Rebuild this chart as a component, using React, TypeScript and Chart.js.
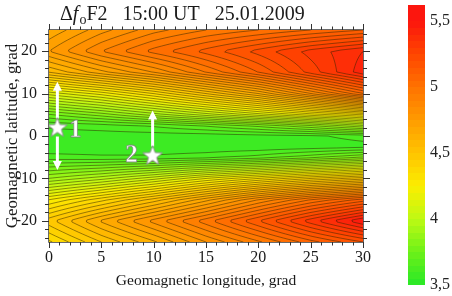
import React, { useEffect, useRef } from "react";
import { Chart, registerables } from "chart.js";
Chart.register(...registerables);

// ---- data ----
const LONGITUDES = [0, 5, 10, 15, 20, 25, 30];
const LATITUDES = [25, 20, 15, 10, 5, 2.5, 0, -2.5, -5, -10, -15, -20, -25];
const ROW_LAT_P25 = [4.66, 4.78, 4.88, 4.95, 5.0, 5.05, 5.1];
const ROW_LAT_P20 = [4.75, 4.9, 5.02, 5.12, 5.22, 5.32, 5.4];
const ROW_LAT_P15 = [4.55, 4.68, 4.8, 4.95, 5.1, 5.27, 5.43];
const ROW_LAT_P10 = [4.12, 4.22, 4.35, 4.5, 4.65, 4.85, 5.05];
const ROW_LAT_P5 = [3.74, 3.82, 3.92, 4.02, 4.12, 4.22, 4.3];
const ROW_LAT_P2_5 = [3.61, 3.63, 3.66, 3.71, 3.77, 3.85, 3.95];
const ROW_LAT_0 = [3.57, 3.57, 3.57, 3.57, 3.58, 3.59, 3.62];
const ROW_LAT_M2_5 = [3.56, 3.56, 3.56, 3.56, 3.56, 3.57, 3.58];
const ROW_LAT_M5 = [3.62, 3.61, 3.61, 3.63, 3.67, 3.73, 3.8];
const ROW_LAT_M10 = [3.9, 3.98, 4.08, 4.2, 4.3, 4.4, 4.48];
const ROW_LAT_M15 = [4.25, 4.38, 4.52, 4.68, 4.85, 5.0, 5.12];
const ROW_LAT_M20 = [4.48, 4.66, 4.82, 4.98, 5.15, 5.33, 5.5];
const ROW_LAT_M25 = [4.34, 4.5, 4.64, 4.8, 4.94, 5.08, 5.2];
const VALUE_ROWS = [
  ROW_LAT_P25, ROW_LAT_P20, ROW_LAT_P15, ROW_LAT_P10, ROW_LAT_P5, ROW_LAT_P2_5,
  ROW_LAT_0, ROW_LAT_M2_5, ROW_LAT_M5, ROW_LAT_M10, ROW_LAT_M15, ROW_LAT_M20, ROW_LAT_M25,
];

const X_TICKS = [0, 5, 10, 15, 20, 25, 30];
const Y_TICKS = [-20, -10, 0, 10, 20];
const COLORBAR_TICKS = [3.5, 4, 4.5, 5, 5.5];
const COLORBAR_LABELS = ["3,5", "4", "4,5", "5", "5,5"];
const CB_MIN = 3.5;
const CB_MAX = 5.62;
const LEVEL_STEP = 0.05;

const MARKER_LON = [0.8, 9.9];
const MARKER_LAT = [2.0, -4.6];
const MARKER_LABELS = ["1", "2"];
const ARROW_UP_TO = [12.8, 6.0];
const ARROW_DOWN_TO: (number | null)[] = [-8.0, null];

// ---- colour map (colour-bar stops) ----
const CMAP_VALUES = [3.5, 3.75, 4.0, 4.25, 4.5, 4.75, 5.0, 5.25, 5.5];
const CMAP_COLORS = [
  [40, 232, 40],
  [110, 242, 25],
  [190, 250, 20],
  [252, 238, 0],
  [255, 196, 0],
  [255, 156, 0],
  [255, 115, 0],
  [255, 70, 0],
  [252, 22, 14],
];

const SERIF = "'Liberation Serif', 'DejaVu Serif', serif";

function colorFor(v: number): number[] {
  if (v <= CMAP_VALUES[0]) return CMAP_COLORS[0];
  for (let i = 0; i < CMAP_VALUES.length - 1; i++) {
    if (v <= CMAP_VALUES[i + 1]) {
      const t = (v - CMAP_VALUES[i]) / (CMAP_VALUES[i + 1] - CMAP_VALUES[i]);
      const a = CMAP_COLORS[i], b = CMAP_COLORS[i + 1];
      return [a[0] + (b[0] - a[0]) * t, a[1] + (b[1] - a[1]) * t, a[2] + (b[2] - a[2]) * t];
    }
  }
  return CMAP_COLORS[CMAP_COLORS.length - 1];
}

function bandColor(v: number): number[] {
  const k = Math.floor((v - CB_MIN) / LEVEL_STEP);
  return colorFor(CB_MIN + (k + 0.5) * LEVEL_STEP);
}

function fieldAt(lon: number, lat: number): number {
  let j = 0;
  while (j < LONGITUDES.length - 2 && lon > LONGITUDES[j + 1]) j++;
  let tx = (lon - LONGITUDES[j]) / (LONGITUDES[j + 1] - LONGITUDES[j]);
  tx = Math.max(0, Math.min(1, tx));
  let i = 0;
  while (i < LATITUDES.length - 2 && lat < LATITUDES[i + 1]) i++;
  let ty = (LATITUDES[i] - lat) / (LATITUDES[i] - LATITUDES[i + 1]);
  ty = Math.max(0, Math.min(1, ty));
  const a = VALUE_ROWS[i][j], b = VALUE_ROWS[i][j + 1];
  const c = VALUE_ROWS[i + 1][j], d = VALUE_ROWS[i + 1][j + 1];
  return a * (1 - tx) * (1 - ty) + b * tx * (1 - ty) + c * (1 - tx) * ty + d * tx * ty;
}

function makeStar(): HTMLCanvasElement {
  const c = document.createElement("canvas");
  c.width = 24;
  c.height = 24;
  const g = c.getContext("2d")!;
  g.beginPath();
  for (let k = 0; k < 10; k++) {
    const r = k % 2 === 0 ? 10.5 : 4.3;
    const ang = -Math.PI / 2 + (k * Math.PI) / 5;
    const px = 12 + r * Math.cos(ang), py = 12.5 + r * Math.sin(ang);
    if (k === 0) g.moveTo(px, py); else g.lineTo(px, py);
  }
  g.closePath();
  g.fillStyle = "#ffffff";
  g.fill();
  g.strokeStyle = "#8f8f8f";
  g.lineWidth = 1;
  g.stroke();
  return c;
}

const fieldPlugin = {
  id: "fieldPlugin",
  beforeDatasetsDraw(chart: any) {
    const { ctx, chartArea, scales } = chart;
    const xs = scales.x, ys = scales.y;
    const L = Math.round(chartArea.left), T = Math.round(chartArea.top);
    const W = Math.round(chartArea.right) - L, H = Math.round(chartArea.bottom) - T;
    const off = document.createElement("canvas");
    off.width = W;
    off.height = H;
    const og = off.getContext("2d")!;
    const img = og.createImageData(W, H);
    for (let py = 0; py < H; py++) {
      const lat = ys.getValueForPixel(T + py + 0.5);
      for (let px = 0; px < W; px++) {
        const lon = xs.getValueForPixel(L + px + 0.5);
        const col = bandColor(fieldAt(lon, lat));
        const o = (py * W + px) * 4;
        img.data[o] = col[0];
        img.data[o + 1] = col[1];
        img.data[o + 2] = col[2];
        img.data[o + 3] = 255;
      }
    }
    og.putImageData(img, 0, 0);
    ctx.save();
    ctx.drawImage(off, L, T);

    ctx.beginPath();
    ctx.rect(L, T, W, H);
    ctx.clip();
    const step = 2;
    const nx = Math.ceil(W / step) + 1, ny = Math.ceil(H / step) + 1;
    const grid: number[] = new Array(nx * ny);
    for (let gy = 0; gy < ny; gy++) {
      const lat = ys.getValueForPixel(T + gy * step);
      for (let gx = 0; gx < nx; gx++) {
        grid[gy * nx + gx] = fieldAt(xs.getValueForPixel(L + gx * step), lat);
      }
    }
    ctx.strokeStyle = "rgba(45,35,0,0.55)";
    ctx.lineWidth = 0.9;
    ctx.beginPath();
    for (let k = 1; k <= 41; k++) {
      const lev = CB_MIN + k * LEVEL_STEP;
      for (let gy = 0; gy < ny - 1; gy++) {
        for (let gx = 0; gx < nx - 1; gx++) {
          const x0 = L + gx * step, y0 = T + gy * step;
          const v = [
            grid[gy * nx + gx],
            grid[gy * nx + gx + 1],
            grid[(gy + 1) * nx + gx + 1],
            grid[(gy + 1) * nx + gx],
          ];
          const cx = [x0, x0 + step, x0 + step, x0];
          const cy = [y0, y0, y0 + step, y0 + step];
          const pts: number[][] = [];
          for (let e = 0; e < 4; e++) {
            const a = v[e], b = v[(e + 1) % 4];
            if ((a < lev) !== (b < lev)) {
              const t = (lev - a) / (b - a);
              const ea = e, eb = (e + 1) % 4;
              pts.push([cx[ea] + (cx[eb] - cx[ea]) * t, cy[ea] + (cy[eb] - cy[ea]) * t]);
            }
          }
          if (pts.length >= 2) {
            ctx.moveTo(pts[0][0], pts[0][1]);
            ctx.lineTo(pts[1][0], pts[1][1]);
            if (pts.length === 4) {
              ctx.moveTo(pts[2][0], pts[2][1]);
              ctx.lineTo(pts[3][0], pts[3][1]);
            }
          }
        }
      }
    }
    ctx.stroke();

    ctx.strokeStyle = "#ffffff";
    ctx.fillStyle = "#ffffff";
    ctx.lineWidth = 3;
    const arrow = (x: number, yFrom: number, yTo: number) => {
      const dir = yTo < yFrom ? -1 : 1;
      ctx.beginPath();
      ctx.moveTo(x, yFrom);
      ctx.lineTo(x, yTo - dir * 7);
      ctx.stroke();
      ctx.beginPath();
      ctx.moveTo(x, yTo);
      ctx.lineTo(x - 4.5, yTo - dir * 9);
      ctx.lineTo(x + 4.5, yTo - dir * 9);
      ctx.closePath();
      ctx.fill();
    };
    MARKER_LON.forEach((lon, i) => {
      const px = xs.getPixelForValue(lon);
      const py = ys.getPixelForValue(MARKER_LAT[i]);
      arrow(px, py - 9, ys.getPixelForValue(ARROW_UP_TO[i]));
      const dn = ARROW_DOWN_TO[i];
      if (dn !== null) arrow(px, py + 9, ys.getPixelForValue(dn));
    });
    ctx.restore();
  },
  afterDatasetsDraw(chart: any) {
    const { ctx, scales, chartArea } = chart;
    const xs = scales.x, ys = scales.y;
    ctx.save();
    ctx.font = `bold 25px ${SERIF}`;
    ctx.fillStyle = "#ffffff";
    ctx.strokeStyle = "rgba(120,120,120,0.8)";
    ctx.lineWidth = 0.8;
    ctx.textBaseline = "middle";
    ctx.textAlign = "center";
    const offs = [[18, 3], [-21, 0]];
    MARKER_LABELS.forEach((lab, i) => {
      const px = xs.getPixelForValue(MARKER_LON[i]) + offs[i][0];
      const py = ys.getPixelForValue(MARKER_LAT[i]) + offs[i][1];
      ctx.fillText(lab, px, py);
      ctx.strokeText(lab, px, py);
    });

    const { left, right, top, bottom } = chartArea;
    ctx.strokeStyle = "#6a6a6a";
    ctx.lineWidth = 1;
    ctx.beginPath();
    ctx.rect(left - 0.5, top - 0.5, right - left + 1, bottom - top + 1);
    ctx.stroke();
    ctx.strokeStyle = "#333";
    ctx.beginPath();
    for (let v = 0; v <= 30; v += 1) {
      const px = Math.round(xs.getPixelForValue(v)) + 0.5;
      const len = v % 5 === 0 ? 6 : 3.5;
      ctx.moveTo(px, bottom);
      ctx.lineTo(px, bottom + len);
      ctx.moveTo(px, top);
      ctx.lineTo(px, top - len);
    }
    for (let v = -24; v <= 24; v += 2) {
      const py = Math.round(ys.getPixelForValue(v)) + 0.5;
      const len = v % 10 === 0 ? 7 : 4;
      ctx.moveTo(left, py);
      ctx.lineTo(left - len, py);
      ctx.moveTo(right, py);
      ctx.lineTo(right + len, py);
    }
    ctx.stroke();

    // title
    const tyb = 20;
    const big = `20px ${SERIF}`, ital = `italic 20px ${SERIF}`, small = `14px ${SERIF}`;
    const rest = "F2   15:00 UT   25.01.2009";
    let cur = 60;
    ctx.fillStyle = "#1a1a1a";
    ctx.textAlign = "left";
    ctx.textBaseline = "alphabetic";
    ctx.font = big;
    ctx.fillText("Δ", cur, tyb);
    cur += ctx.measureText("Δ").width;
    ctx.font = ital;
    ctx.fillText("f", cur, tyb);
    cur += ctx.measureText("f").width + 1;
    ctx.font = small;
    ctx.fillText("o", cur, tyb + 4);
    cur += ctx.measureText("o").width;
    ctx.font = big;
    ctx.fillText(rest, cur, tyb);

    const cbL = 408, cbR = 425, cbT = 5, cbB = 285;
    const yOf = (v: number) => cbB - ((v - CB_MIN) / (CB_MAX - CB_MIN)) * (cbB - cbT);
    for (let v = CB_MIN; v < CB_MAX - 1e-9; v += LEVEL_STEP) {
      const c = colorFor(v + LEVEL_STEP / 2);
      ctx.fillStyle = `rgb(${c[0] | 0},${c[1] | 0},${c[2] | 0})`;
      const y1 = yOf(Math.min(v + LEVEL_STEP, CB_MAX));
      const y0 = yOf(v);
      ctx.fillRect(cbL, Math.floor(y1), cbR - cbL, Math.ceil(y0) - Math.floor(y1));
    }
    ctx.font = `16px ${SERIF}`;
    ctx.fillStyle = "#222";
    ctx.textBaseline = "middle";
    COLORBAR_TICKS.forEach((v, i) => {
      ctx.fillText(COLORBAR_LABELS[i], 430, yOf(v));
    });
    ctx.restore();
  },
};

export default function App() {
  const ref = useRef<HTMLCanvasElement | null>(null);
  useEffect(() => {
    document.body.style.margin = "0";
    const canvas = ref.current!;
    const star = makeStar();
    const chart = new Chart(canvas, {
      type: "scatter",
      data: {
        datasets: [
          {
            data: MARKER_LON.map((x, i) => ({ x, y: MARKER_LAT[i] })),
            pointStyle: star as any,
            pointRadius: 11,
            pointHoverRadius: 11,
          },
        ],
      },
      options: {
        animation: false,
        responsive: false,
        events: [],
        layout: { padding: { left: 0, top: 30, right: 89, bottom: 0 } },
        plugins: {
          legend: { display: false },
          tooltip: { enabled: false },
          title: { display: false },
        },
        scales: {
          x: {
            type: "linear",
            min: 0,
            max: 30,
            afterFit: (s: any) => {
              s.height = 54;
            },
            afterBuildTicks: (s: any) => {
              s.ticks = X_TICKS.map((v) => ({ value: v }));
            },
            grid: { display: false, drawTicks: false },
            border: { display: false },
            ticks: {
              color: "#1a1a1a",
              font: { family: SERIF, size: 16 },
              padding: 6,
              maxRotation: 0,
              autoSkip: false,
              callback: (v: any) => String(v),
            },
            title: {
              display: true,
              text: "Geomagnetic longitude, grad",
              color: "#1a1a1a",
              font: { family: SERIF, size: 15.5 },
              padding: { top: 0, bottom: 6 },
            },
          },
          y: {
            type: "linear",
            min: -25,
            max: 25,
            afterFit: (s: any) => {
              s.width = 49;
            },
            afterBuildTicks: (s: any) => {
              s.ticks = Y_TICKS.map((v) => ({ value: v }));
            },
            grid: { display: false, drawTicks: false },
            border: { display: false },
            ticks: {
              color: "#1a1a1a",
              font: { family: SERIF, size: 16 },
              padding: 12,
              autoSkip: false,
              callback: (v: any) => String(v),
            },
            title: {
              display: true,
              text: "Geomagnetic latitude, grad",
              color: "#1a1a1a",
              font: { family: SERIF, size: 17 },
              padding: { top: 2, bottom: 0 },
            },
          },
        },
      },
      plugins: [fieldPlugin],
    } as any);
    return () => chart.destroy();
  }, []);
  return (
    <div style={{ width: 452, height: 296 }}>
      <canvas ref={ref} width={452} height={296} style={{ display: "block" }} />
    </div>
  );
}
